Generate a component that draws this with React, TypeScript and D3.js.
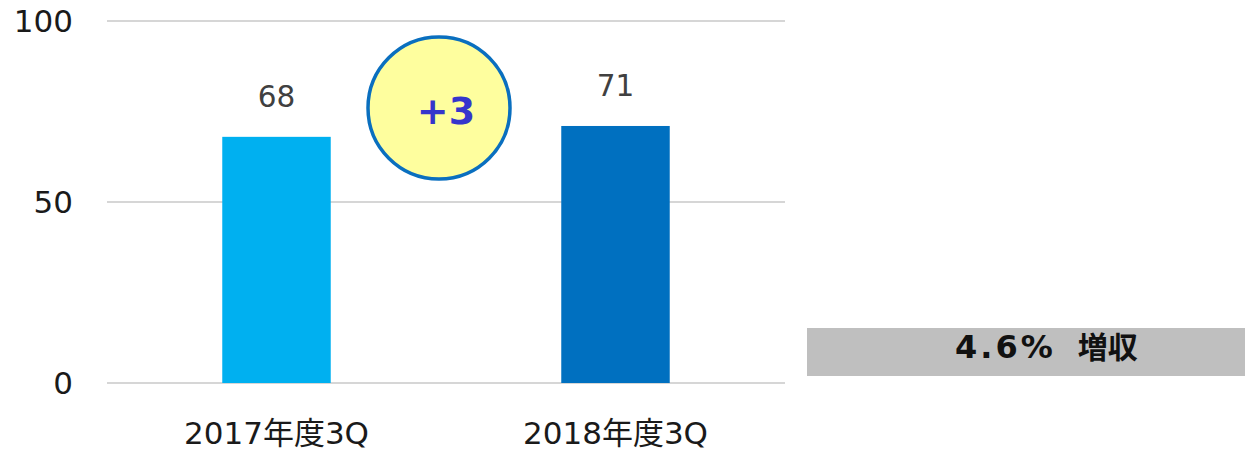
import React from "react";
import * as d3 from "d3";

const categories = ["2017年度3Q", "2018年度3Q"];
const values = [68, 71];
const barColors = ["#00b0f0", "#0070c0"];
const yTicks = [0, 50, 100];
const diffLabel = "+3";
const growthPct = "4.6%";
const growthWord = "増収";

export default function App() {
  const W = 1245, H = 456;
  const x = d3.scaleBand<string>().domain(categories).range([107, 785]).paddingInner(0.68).paddingOuter(0.34);
  const y = d3.scaleLinear().domain([0, 100]).range([383, 21]);
  const font = "'DejaVu Sans', Verdana, 'Noto Sans CJK JP', sans-serif";
  return (
    <svg width={W} height={H} style={{ position: "absolute", left: 0, top: 0 }} fontFamily={font}>
      {yTicks.map((t) => (
        <g key={t}>
          <line x1={107} x2={785} y1={y(t)} y2={y(t)} stroke="#c8c8c8" strokeWidth={1.5} />
          <text x={73} y={y(t)} dy="0.36em" textAnchor="end" fontSize={31} fill="#1a1a1a">{t}</text>
        </g>
      ))}
      {categories.map((c, i) => (
        <g key={c}>
          <rect x={x(c)!} y={y(values[i])} width={x.bandwidth()} height={y(0) - y(values[i])} fill={barColors[i]} />
          <text x={x(c)! + x.bandwidth() / 2} y={y(values[i]) - 30} textAnchor="middle" fontSize={29.5} fill="#404040">{values[i]}</text>
          <text x={x(c)! + x.bandwidth() / 2} y={y(0) + 61} textAnchor="middle" fontSize={31} fill="#1a1a1a">{c}</text>
        </g>
      ))}
      <circle cx={439} cy={108} r={71} fill="#fefe9e" stroke="#0a6fbf" strokeWidth={3.5} />
      <text x={446} y={110} dy="0.36em" textAnchor="middle" fontSize={38} fontWeight="bold" fill="#3535cc">{diffLabel}</text>
      <rect x={807} y={328} width={438} height={48} fill="#bfbfbf" />
      <text x={955} y={352.5} dy="0.36em" textAnchor="start" fontWeight="bold" fill="#111">
        <tspan fontSize={32} letterSpacing={3}>{growthPct}</tspan>
        <tspan fontSize={30} dx={22}>{growthWord}</tspan>
      </text>
    </svg>
  );
}
